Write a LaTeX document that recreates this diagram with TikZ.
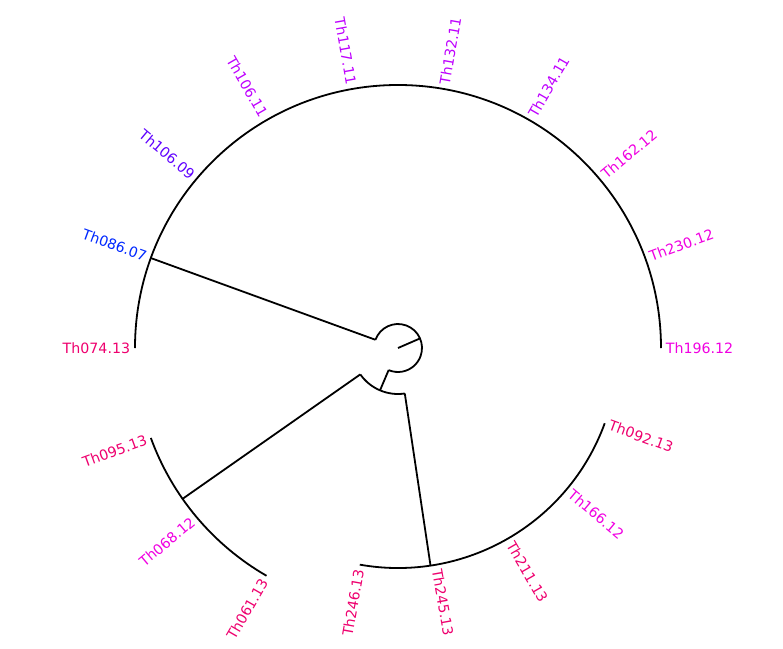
\documentclass[tikz,border=0pt]{standalone}
\usepackage{fontspec}
\setmainfont{DejaVu Sans}
\definecolor{pinkred}{RGB}{238,0,110}
\definecolor{magent}{RGB}{240,0,225}
\definecolor{purpl}{RGB}{190,0,255}
\definecolor{bluevio}{RGB}{95,0,255}
\definecolor{blu}{RGB}{0,40,255}
\begin{document}
\begin{tikzpicture}[x=1pt,y=1pt,line width=1.8pt,
    leafR/.style={inner sep=0pt,anchor=west,font=\fontsize{14.2}{16}\selectfont},
    leafL/.style={inner sep=0pt,anchor=east,font=\fontsize{14.2}{16}\selectfont}]
      \useasboundingbox (-398,-300) rectangle (385,348);
      % inner nodes
      \coordinate (root) at (0,0);
      \coordinate (n1) at (23.5:24);
      \coordinate (n1a) at (160:24);
      \coordinate (n1b) at (-113:24);
      \coordinate (n2) at (-113:46);
      \coordinate (n2a) at (-145:46);
      \coordinate (n2b) at (-81.5:46);
      \coordinate (cA) at (160:263);
      \coordinate (cB) at (-145:263);
      \coordinate (cC) at (-81.5:220);
      \coordinate (eA) at (0:263);
      \coordinate (eB) at (-120:263);
      \coordinate (eC) at (-20:220);
      \draw (root) -- (n1);
      \draw (n1a) arc (160:-113:24);
      \draw (n1a) -- (cA);
      \draw (n1b) -- (n2);
      \draw (n2a) arc (-145:-81.5:46);
      \draw (n2a) -- (cB);
      \draw (n2b) -- (cC);
      \draw (eA) arc (0:180:263);
      \draw (eB) arc (-120:-160:263);
      \draw (eC) arc (-20:-100:220);
      % leaves
      \node[leafR,magent,rotate=0] (t196) at (0:267) {Th196.12};
      \node[leafR,magent,rotate=20] (t230) at (20:267) {Th230.12};
      \node[leafR,magent,rotate=40] (t162) at (40:267) {Th162.12};
      \node[leafR,purpl,rotate=60] (t134) at (60:267) {Th134.11};
      \node[leafR,purpl,rotate=80] (t132) at (80:267) {Th132.11};
      \node[leafL,purpl,rotate=-80] (t117) at (100:267) {Th117.11};
      \node[leafL,purpl,rotate=-60] (t106b) at (120:267) {Th106.11};
      \node[leafL,bluevio,rotate=-40] (t106a) at (140:267) {Th106.09};
      \node[leafL,blu,rotate=-20] (t086) at (160:267) {Th086.07};
      \node[leafL,pinkred,rotate=0] (t074) at (180:267) {Th074.13};
      \node[leafL,pinkred,rotate=20] (t095) at (200:267) {Th095.13};
      \node[leafL,magent,rotate=40] (t068) at (220:267) {Th068.12};
      \node[leafL,pinkred,rotate=60] (t061) at (240:267) {Th061.13};
      \node[leafL,pinkred,rotate=80] (t246) at (-100:224) {Th246.13};
      \node[leafR,pinkred,rotate=-80] (t245) at (-80:224) {Th245.13};
      \node[leafR,pinkred,rotate=-60] (t211) at (-60:224) {Th211.13};
      \node[leafR,magent,rotate=-40] (t166) at (-40:224) {Th166.12};
      \node[leafR,pinkred,rotate=-20] (t092) at (-20:224) {Th092.13};
\end{tikzpicture}
\end{document}
